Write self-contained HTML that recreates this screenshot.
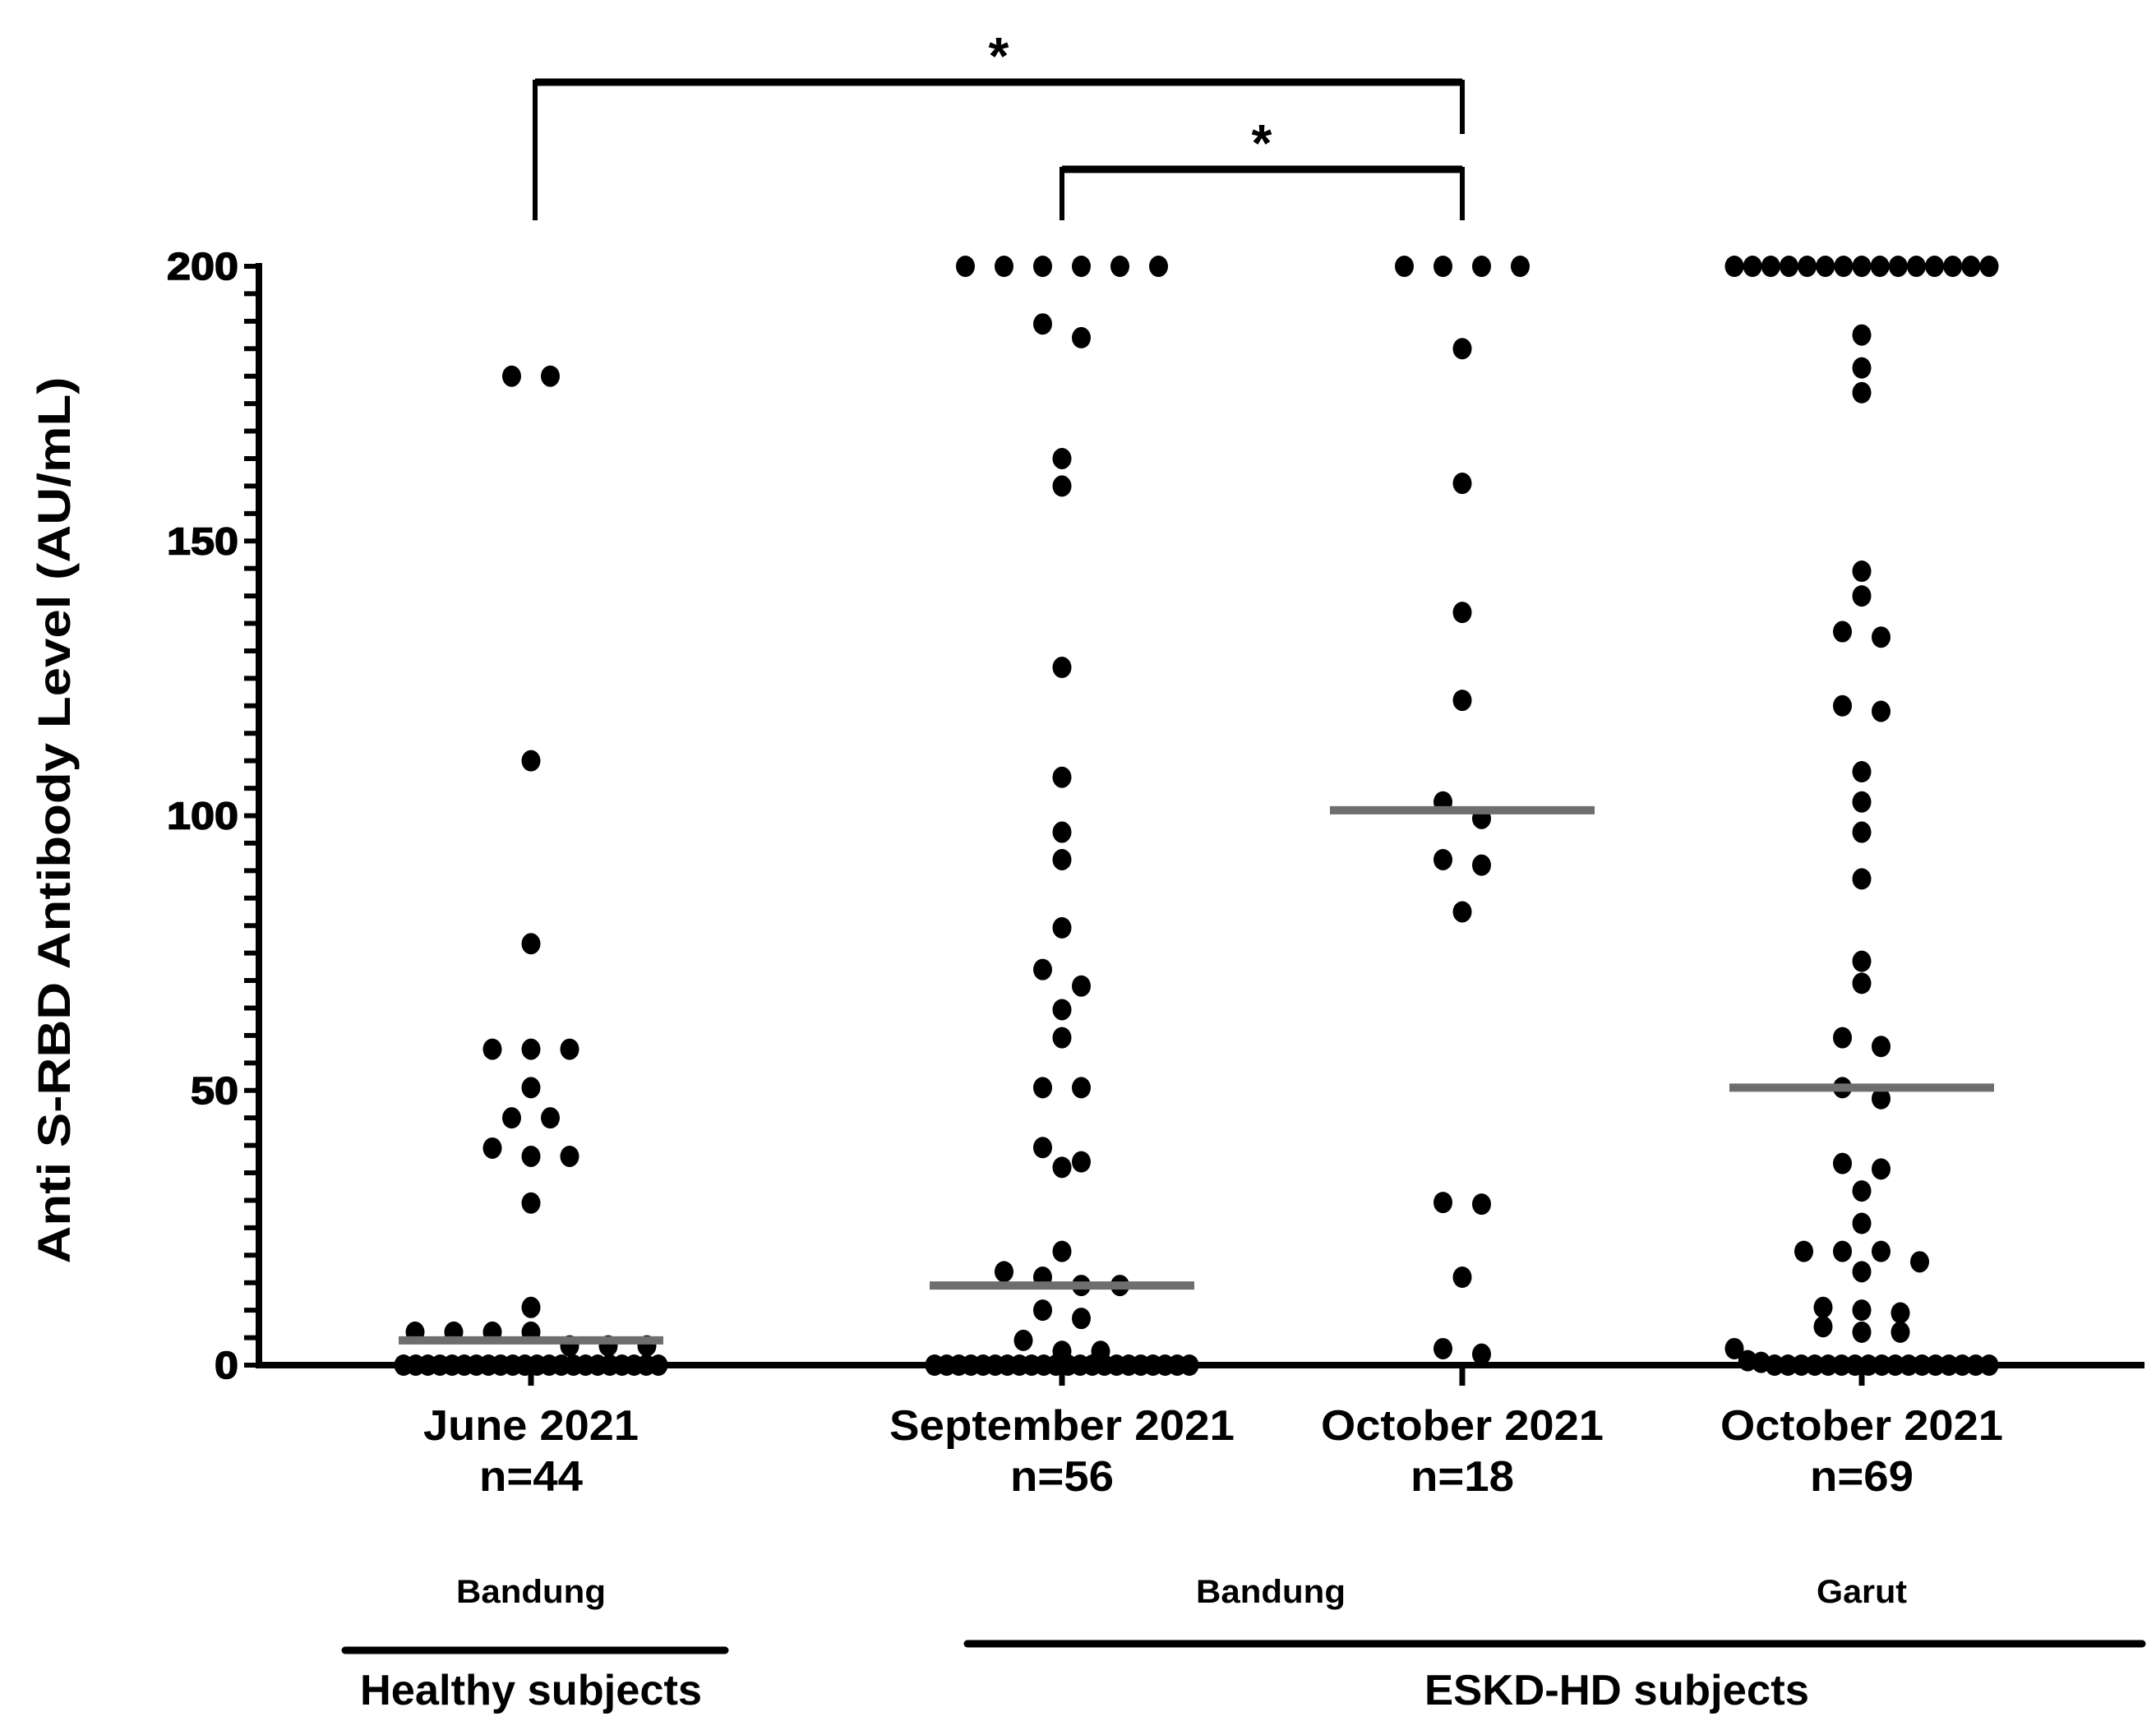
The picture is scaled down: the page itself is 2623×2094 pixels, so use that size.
<!DOCTYPE html>
<html><head><meta charset="utf-8"><style>
html,body{margin:0;padding:0;background:#fff;}
svg{display:block;}
text{font-family:"Liberation Sans",sans-serif;font-weight:bold;fill:#000;}
</style></head><body>
<svg id="chart" width="2623" height="2094" viewBox="0 0 2623 2094" xmlns="http://www.w3.org/2000/svg"></svg>
<script>
const categories = ["June 2021","September 2021","October 2021","October 2021"];
const nLabels = ["n=44","n=56","n=18","n=69"];
const juneValues = [180,180,110,76.7,57.5,57.5,57.5,50.5,45,45,39.5,38,38,29.5,10.5,6,6,6,6,3.5,3.5,3.5,0,0,0,0,0,0,0,0,0,0,0,0,0,0,0,0,0,0,0,0,0,0];
const septValues = [200,200,200,200,200,200,187,189.5,165,160,127,107,97,92,79.6,72,69,64.7,59.6,50.5,50.5,39.6,36,37,20.7,17,14.5,14.5,16,8.5,10,4.5,2.5,2.5,0,0,0,0,0,0,0,0,0,0,0,0,0,0,0,0,0,0,0,0,0,0];
const octBValues = [200,200,200,200,185,160.5,137,121,102.5,99.5,92,91,82.5,29.6,29.3,16,3,2];
const garutValues = [200,200,200,200,200,200,200,200,200,200,200,200,200,200,200,187.5,181.5,177,144.5,140,133.5,132.5,120,119,108,102.5,97,88.5,73.5,69.5,59.6,58,50.5,48.5,36.7,35.7,31.7,25.8,20.7,20.7,20.7,18.8,17,10.5,10,9.5,7,6,6,3,0.8,0.5,0,0,0,0,0,0,0,0,0,0,0,0,0,0,0,0,0];
const medians = [4.5,14.5,101,50.5];
const yTicks = [0,50,100,150,200];
const regionLabels = ["Bandung","Bandung","Garut"];
const seriesList = [juneValues,septValues,octBValues,garutValues];

const svg = document.getElementById('chart');
const NS = "http://www.w3.org/2000/svg";
const X0 = 315, X1 = 2609, Y0 = 1661, Y1 = 324;
const groupX = [646,1292,1779,2265];
const catLen = [262,420,344,344];
function yScale(v){ return Y0 - (v/200)*(Y0-Y1); }
function xScale(i){ return groupX[i]; }
function mk(tag, attrs, parent){
  const e = document.createElementNS(NS, tag);
  for (const k in attrs) e.setAttribute(k, attrs[k]);
  (parent||svg).appendChild(e);
  return e;
}
let g = mk('g',{});


mk('line',{x1:X0,y1:Y1-4,x2:X0,y2:Y0+4,stroke:'#000','stroke-width':8},g);
for (let v=0; v<=200; v+=5){
  const t = mk('line',{x1:X0-18,x2:X0,y1:yScale(v),y2:yScale(v),stroke:'#000','stroke-width':6},g);
  
  
}
yTicks.forEach(v=>{
  const s = String(v);
  const t = mk('text',{x:290,y:yScale(v)+16,'text-anchor':'end','font-size':46,textLength:s.length*29,lengthAdjust:'spacingAndGlyphs',stroke:'#000','stroke-width':1.5},g);
  t.textContent = s;
  
  
});
const yt = mk('text',{x:0,y:0,'text-anchor':'middle','font-size':56,textLength:1079,lengthAdjust:'spacingAndGlyphs',transform:'translate(85,998) rotate(-90)'});
yt.textContent = 'Anti S-RBD Antibody Level (AU/mL)';



const xa = mk('line',{x1:X0-4,x2:X1,y1:Y0,y2:Y0,stroke:'#000','stroke-width':8});



const R = 11.5, SP = 47, MAXW = 310;
seriesList.forEach((vals, gi)=>{
  const gg = mk('g',{});
  
  
  const sorted = vals.slice().sort((a,b)=>b-a);
  const clusters = [];
  sorted.forEach(v=>{
    const c = clusters[clusters.length-1];
    if (c && Math.abs(yScale(v)-yScale(c[0])) < 22) c.push(v); else clusters.push([v]);
  });
  clusters.forEach(c=>{
    const n = c.length;
    const sp = n>1 ? Math.min(SP, MAXW/(n-1)) : 0;
    c.forEach((v,k)=>{
      const cx = xScale(gi) + (k-(n-1)/2)*sp;
      const d = mk('ellipse',{cx:cx,cy:yScale(v),rx:R,ry:R+1.5,fill:'#000'},gg);
      
      
    });
  });
  const m = mk('line',{x1:xScale(gi)-161,x2:xScale(gi)+161,y1:yScale(medians[gi]),y2:yScale(medians[gi]),stroke:'#6e6e6e','stroke-width':10});
  
  
  const tk = mk('line',{x1:xScale(gi),x2:xScale(gi),y1:Y0,y2:Y0+25,stroke:'#000','stroke-width':7});
  
  
  const cl = mk('text',{x:xScale(gi),y:1752,'text-anchor':'middle','font-size':52,textLength:catLen[gi],lengthAdjust:'spacingAndGlyphs'});
  cl.textContent = categories[gi];
  
  
  const nl = mk('text',{x:xScale(gi),y:1814,'text-anchor':'middle','font-size':52,textLength:126,lengthAdjust:'spacingAndGlyphs'});
  nl.textContent = nLabels[gi];
  
  
});

const regionX = [646,1546,2265];
regionLabels.forEach((r,i)=>{
  const t = mk('text',{x:regionX[i],y:1950,'text-anchor':'middle','font-size':40,textLength:r.length===7?182:110,lengthAdjust:'spacingAndGlyphs'});
  t.textContent = r;
  
  
});
const l1 = mk('line',{x1:420,x2:882,y1:2008,y2:2008,stroke:'#000','stroke-width':9,'stroke-linecap':'round'});


const l2 = mk('line',{x1:1177,x2:2606,y1:2000,y2:2000,stroke:'#000','stroke-width':9,'stroke-linecap':'round'});


const h1 = mk('text',{x:646,y:2074,'text-anchor':'middle','font-size':52,textLength:416,lengthAdjust:'spacingAndGlyphs'});
h1.textContent='Healthy subjects';


const h2 = mk('text',{x:1967,y:2074,'text-anchor':'middle','font-size':52,textLength:468,lengthAdjust:'spacingAndGlyphs'});
h2.textContent='ESKD-HD subjects';



const b1 = mk('path',{d:'M651 268 V100 H1779 V163',fill:'none',stroke:'#000','stroke-width':6});


mk('line',{x1:651,x2:1779,y1:100,y2:100,stroke:'#000','stroke-width':9});
const b2 = mk('path',{d:'M1292 268 V206 H1779 V268',fill:'none',stroke:'#000','stroke-width':6});


mk('line',{x1:1292,x2:1779,y1:206,y2:206,stroke:'#000','stroke-width':9});
const s1 = mk('text',{x:1215,y:90,'text-anchor':'middle','font-size':64});
s1.textContent='*';


const s2 = mk('text',{x:1535,y:196,'text-anchor':'middle','font-size':64});
s2.textContent='*';


</script>
</body></html>
